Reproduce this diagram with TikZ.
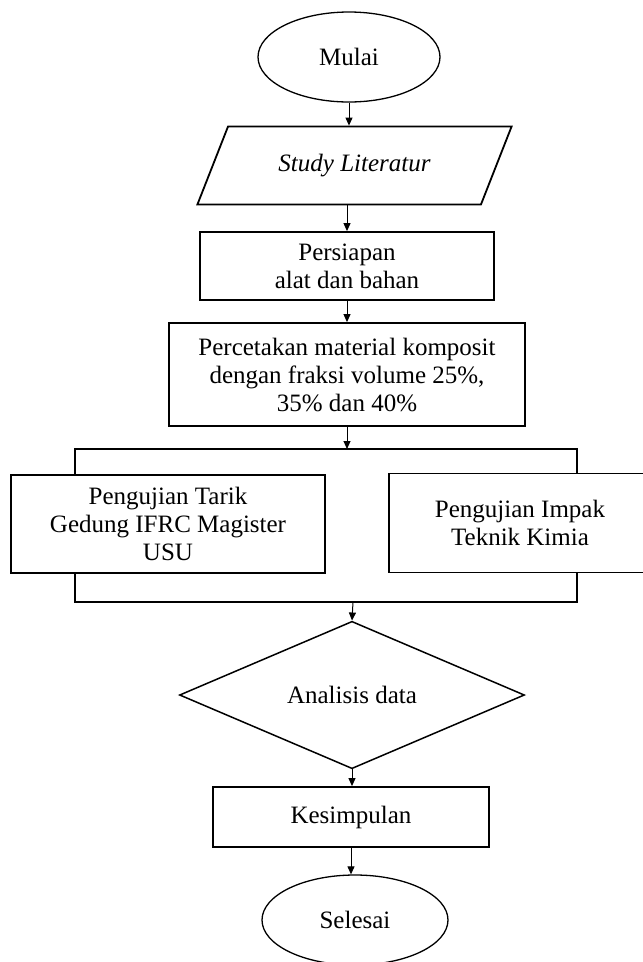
\documentclass[tikz,border=0pt]{standalone}
\usepackage{fontspec}
\setmainfont{Liberation Serif}
\usetikzlibrary{positioning,arrows.meta,shapes.geometric}

\begin{document}
\begin{tikzpicture}[x=1pt, y=-1pt,
  every node/.style={font=\fontsize{25}{28}\selectfont, align=center},
  box/.style={draw, line width=1.8pt, rectangle, inner sep=0pt},
  term/.style={draw, line width=1.3pt, ellipse, inner sep=0pt},
  io/.style={draw, line width=1.8pt, trapezium, trapezium stretches=true, trapezium left angle=51, trapezium right angle=129, inner sep=0pt},
  decide/.style={draw, line width=1.5pt, diamond, inner sep=0pt},
  arr/.style={-{Triangle[length=8pt, width=7pt]}, line width=1pt},
  bracket/.style={line width=1.8pt}]
\useasboundingbox (0,0) rectangle (643,962);
\clip (0,0) rectangle (643,962);
% flow, top to bottom
\node[term, minimum width=182, minimum height=90] (mulai) at (349,57) {Mulai};
\node[io, minimum width=315, minimum height=78] (study) at (354.5,165.5) {\itshape Study Literatur};
\node[box, minimum width=294, minimum height=68] (persiapan) at (347,266) {Persiapan\\alat dan bahan};
\node[box, minimum width=356, minimum height=103] (cetak) at (347,374.5) {Percetakan material komposit\\dengan fraksi volume 25\%,\\35\% dan 40\%};
\node[box, minimum width=314, minimum height=98] (tarik) at (168,524) {Pengujian Tarik\\Gedung IFRC Magister\\USU};
\node[box, minimum width=262, minimum height=99] (impak) at (520,523) {Pengujian Impak\\Teknik Kimia};
\node[decide, minimum width=345, minimum height=126] (analisis) at (352,695) {Analisis data};
\node[box, minimum width=276, minimum height=60] (kesimpulan) at (351,817) {Kesimpulan};
\node[term, minimum width=186, minimum height=90] (selesai) at (355,920) {Selesai};
% split and join
\coordinate (split) at (347,449);
\coordinate (splitL) at (75,449);
\coordinate (splitR) at (577,449);
\coordinate (join) at (353,602);
\coordinate (joinL) at (75,602);
\coordinate (joinR) at (577,602);
\draw[bracket] (tarik.north -| splitL) -- (splitL) -- (splitR) -- (impak.north -| splitR);
\draw[bracket] (tarik.south -| joinL) -- (joinL) -- (joinR) -- (impak.south -| joinR);
% arrows
\draw[arr] (mulai.south) -- (mulai.south |- study.north);
\draw[arr] (persiapan.north |- study.south) -- (persiapan.north);
\draw[arr] (persiapan.south) -- (cetak.north);
\draw[arr] (cetak.south) -- (split);
\draw[arr] (join) -- (analisis.north);
\draw[arr] (analisis.south) -- (kesimpulan.north -| analisis.south);
\draw[arr] (kesimpulan.south) -- (kesimpulan.south |- selesai.north);
\end{tikzpicture}
\end{document}
